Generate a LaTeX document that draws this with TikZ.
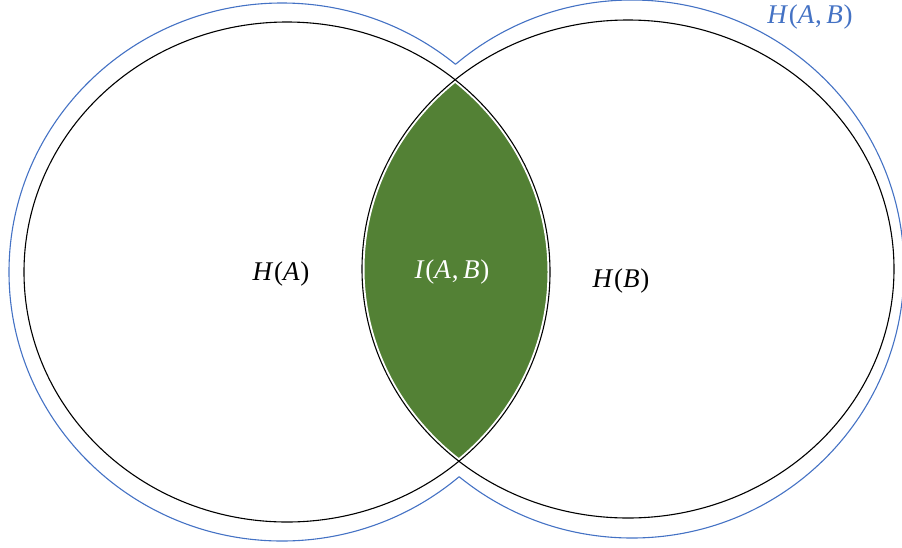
\documentclass[tikz,border=0pt]{standalone}
\usepackage{fontspec}
\setmainfont{Liberation Serif}
\definecolor{lensgreen}{HTML}{538135}
\definecolor{outblue}{HTML}{4472C4}
\newcommand{\vi}[1]{\textit{#1}\kern0.8pt}
\begin{document}
\begin{tikzpicture}[x=1pt,y=-1pt,
  lbl/.style={font=\fontsize{27}{30}\selectfont, inner sep=0pt}]
\useasboundingbox (0,0) rectangle (902,547);
\clip (0,0) rectangle (902,547);
% blue outer union outline
\begin{scope}[even odd rule]
  \clip (0,0) rectangle (902,547) (632,269) ellipse [x radius=272, y radius=269];
  \draw[outblue, line width=1.1pt] (282,272) ellipse [x radius=273, y radius=269];
\end{scope}
\begin{scope}[even odd rule]
  \clip (0,0) rectangle (902,547) (282,272) ellipse [x radius=273, y radius=269];
  \draw[outblue, line width=1.1pt] (632,269) ellipse [x radius=272, y radius=269];
\end{scope}
% green lens
\begin{scope}
  \clip (287,272) ellipse [x radius=263, y radius=250];
  \fill[lensgreen] (628,269) ellipse [x radius=266, y radius=249];
\end{scope}
\draw[white, line width=5pt] (287,272) ellipse [x radius=263, y radius=250];
\draw[white, line width=5pt] (628,269) ellipse [x radius=266, y radius=249];
\draw[black, line width=1.1pt] (287,272) ellipse [x radius=263, y radius=250];
\draw[black, line width=1.1pt] (628,269) ellipse [x radius=266, y radius=249];
% labels
\node[lbl] (ha) at (281,274) {\vi{H}(\vi{A})};
\node[lbl, text=white] (iab) at (452,272) {\vi{I}(\vi{A},\,\vi{B})};
\node[lbl] (hb) at (621,281) {\vi{H}(\vi{B})};
\node[lbl, text=outblue] (hab) at (810,17) {\vi{H}(\vi{A},\,\vi{B})};
\end{tikzpicture}
\end{document}
